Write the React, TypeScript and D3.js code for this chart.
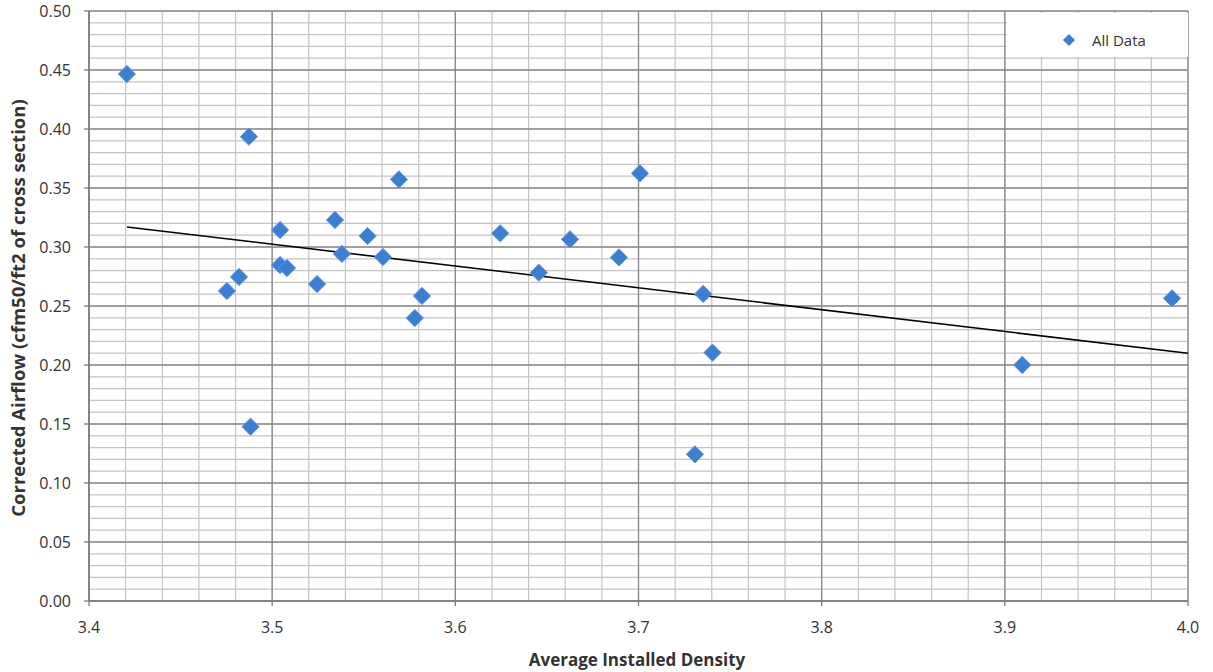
import React from "react";
import * as d3 from "d3";

const densities = [3.4207, 3.4873, 3.4882, 3.4753, 3.4819, 3.5043, 3.5081, 3.5043, 3.5245, 3.5343, 3.5381, 3.5521, 3.5605, 3.5692, 3.5779, 3.5818, 3.6245, 3.6456, 3.6626, 3.6893, 3.7008, 3.7353, 3.7404, 3.7308, 3.9095, 3.9913];
const airflows = [0.4466, 0.3935, 0.1477, 0.2627, 0.2746, 0.2847, 0.2822, 0.3144, 0.2686, 0.3229, 0.2941, 0.3093, 0.2915, 0.3573, 0.2398, 0.2585, 0.3116, 0.2782, 0.3065, 0.2912, 0.3624, 0.2602, 0.2105, 0.1243, 0.2, 0.2565];
// linear trendline as displayed
const trendCoef = [-0.1849, 0.9495]; // slope, intercept
const trendRange = [3.4207, 4.0];
const xTicks = [3.4, 3.5, 3.6, 3.7, 3.8, 3.9, 4.0];
const yTicks = [0, 0.05, 0.1, 0.15, 0.2, 0.25, 0.3, 0.35, 0.4, 0.45, 0.5];
const seriesName = "All Data";
const xTitle = "Average Installed Density";
const yTitle = "Corrected Airflow (cfm50/ft2 of cross section)";

const W = 1213, H = 672;
const L = 89, R = 1188, T = 11, B = 601;
const FONT = "'Open Sans', Calibri, sans-serif";
const BLUE = "#3b7fd4";

export default function App() {
  const x = d3.scaleLinear().domain([3.4, 4.0]).range([L, R]);
  const y = d3.scaleLinear().domain([0, 0.5]).range([B, T]);
  const xMinor = d3.range(0, 31).map((i) => 3.4 + i * 0.02);
  const yMinor = d3.range(0, 51).map((i) => i * 0.01);

  const [slope, icpt] = trendCoef;
  const trend = d3.line<number>().x((d) => x(d)).y((d) => y(slope * d + icpt))(trendRange);

  const diamond = d3.symbol().type(d3.symbolDiamond2).size(190)();

  return (
    <svg width={W} height={H} style={{ position: "absolute", left: 0, top: 0, background: "#fff" }} fontFamily={FONT}>
      <defs>
        <filter id="soft" x="-50%" y="-50%" width="200%" height="200%">
          <feGaussianBlur stdDeviation="0.6" />
        </filter>
      </defs>
      <rect x={0} y={0} width={W} height={H} fill="#fff" />
      {xMinor.map((v, i) => (
        <line key={"xm" + i} x1={x(v)} x2={x(v)} y1={T} y2={B} stroke="#c4c4c4" strokeWidth={1.2} />
      ))}
      {yMinor.map((v, i) => (
        <line key={"ym" + i} x1={L} x2={R} y1={y(v)} y2={y(v)} stroke="#c4c4c4" strokeWidth={1.2} />
      ))}
      {xTicks.map((v, i) => (
        <line key={"xM" + i} x1={x(v)} x2={x(v)} y1={T} y2={B} stroke="#8a8a8a" strokeWidth={1.3} />
      ))}
      {yTicks.map((v, i) => (
        <line key={"yM" + i} x1={L} x2={R} y1={y(v)} y2={y(v)} stroke="#8a8a8a" strokeWidth={1.3} />
      ))}
      <line x1={L} x2={L} y1={T} y2={B} stroke="#7a7a7a" strokeWidth={1.5} />
      <line x1={L} x2={R} y1={B} y2={B} stroke="#7a7a7a" strokeWidth={1.5} />
      {yTicks.map((v, i) => (
        <line key={"yt" + i} x1={L - 5} x2={L} y1={y(v)} y2={y(v)} stroke="#7a7a7a" strokeWidth={1.3} />
      ))}
      {xTicks.map((v, i) => (
        <line key={"xt" + i} x1={x(v)} x2={x(v)} y1={B} y2={B + 5} stroke="#7a7a7a" strokeWidth={1.3} />
      ))}
      <rect x={1007} y={13} width={181} height={44} fill="#fff" />
      <path d={diamond!} transform={`translate(1069,40) scale(0.7)`} fill={BLUE} filter="url(#soft)" />
      <text x={1092} y={46} fontSize={15} fill="#333">{seriesName}</text>
      <path d={trend!} fill="none" stroke="#000" strokeWidth={1.6} />
      {densities.map((d, i) => (
        <path key={"p" + i} d={diamond!} transform={`translate(${x(d)},${y(airflows[i])})`} fill={BLUE} stroke="#5b95de" strokeWidth={1} filter="url(#soft)" />
      ))}
      {yTicks.map((v, i) => (
        <text key={"yl" + i} x={71} y={y(v)} dy="0.35em" textAnchor="end" fontSize={16} fill="#333">
          {d3.format(".2f")(v)}
        </text>
      ))}
      {xTicks.map((v, i) => (
        <text key={"xl" + i} x={x(v)} y={633} textAnchor="middle" fontSize={16} fill="#333">
          {d3.format(".1f")(v)}
        </text>
      ))}
      <text x={637} y={666} textAnchor="middle" fontSize={17} fontWeight="bold" fill="#333">{xTitle}</text>
      <text transform={`translate(25,${(T + B) / 2 + 2}) rotate(-90)`} textAnchor="middle" fontSize={18.5} fontWeight="bold" fill="#333">{yTitle}</text>
    </svg>
  );
}
